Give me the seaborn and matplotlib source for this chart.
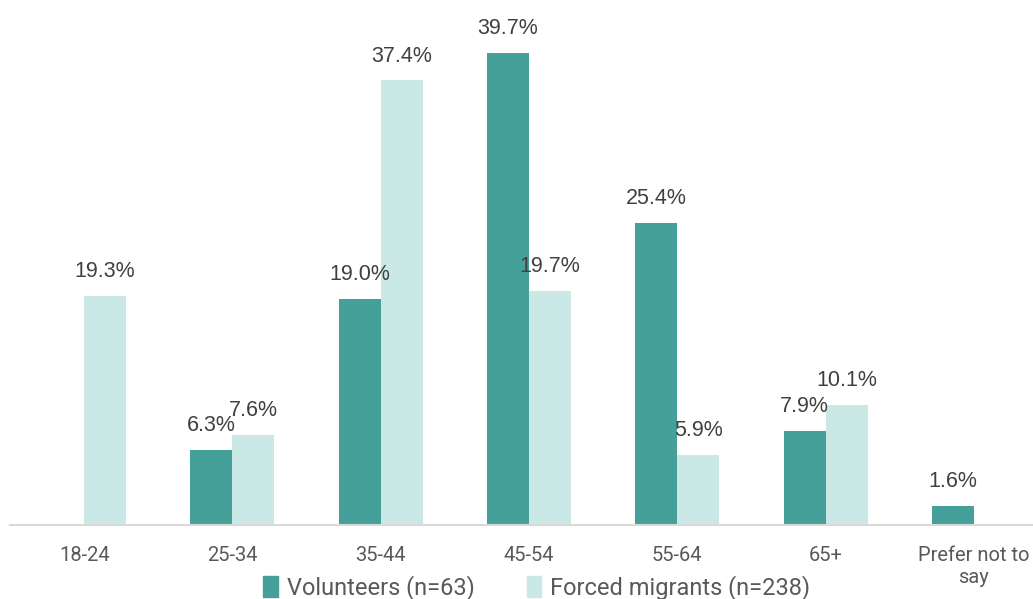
import matplotlib
matplotlib.use("Agg")
import matplotlib.pyplot as plt
import pandas as pd
import seaborn as sns

age_groups = ['18-24', '25-34', '35-44', '45-54', '55-64', '65+', 'Prefer not to\nsay']
volunteers = [0.0, 6.3, 19.0, 39.7, 25.4, 7.9, 1.6]
migrants = [19.3, 7.6, 37.4, 19.7, 5.9, 10.1, 0.0]
series = ['Volunteers (n=63)', 'Forced migrants (n=238)']
colors = ['#45A09A', '#C9E8E6']

df = pd.DataFrame({
    'age': age_groups * 2,
    'pct': volunteers + migrants,
    'group': [series[0]] * len(age_groups) + [series[1]] * len(age_groups),
})

sns.set_style("white")
plt.rcParams['font.family'] = ['Roboto', 'DejaVu Sans']

fig = plt.figure(figsize=(10.33, 5.99), dpi=100)
ax = fig.add_axes([10 / 1033, 1 - 525 / 599, 1038 / 1033, 523 / 599])

sns.barplot(data=df, x='age', y='pct', hue='group', palette=colors,
            width=0.566, gap=0, saturation=1, linewidth=0, ax=ax, legend=False)

# value labels, skip empty bars
for container in ax.containers:
    for bar in container:
        h = bar.get_height()
        if h <= 0:
            continue
        ax.annotate(f'{h:.1f}%', (bar.get_x() + bar.get_width() / 2, h),
                    xytext=(0, 10), textcoords='offset points', ha='center', va='bottom',
                    fontsize=15.5, color='#404040', family=['Liberation Sans', 'DejaVu Sans'])

ax.set_ylim(0, 44)
ax.set_xlim(-0.5, 6.5)
ax.set_xlabel('')
ax.set_ylabel('')
ax.set_yticks([])
for s in ['top', 'left', 'right']:
    ax.spines[s].set_visible(False)
ax.spines['bottom'].set_color('#D9D9D9')
ax.spines['bottom'].set_linewidth(1.5)
ax.tick_params(axis='x', length=0, pad=15, labelsize=14.5, labelcolor='#595959')

handles = [plt.Rectangle((0, 0), 1, 1, color=c) for c in colors]
fig.legend(handles, series, loc='center', bbox_to_anchor=(537 / 1033, 1 - 588 / 599),
           ncol=2, frameon=False, fontsize=17, labelcolor='#595959',
           handlelength=0.6, handleheight=1.0, handletextpad=0.4, columnspacing=2.2)

fig.savefig('out.png', dpi=100)
